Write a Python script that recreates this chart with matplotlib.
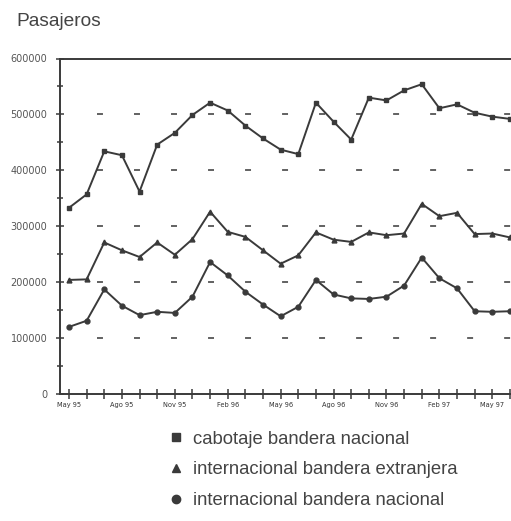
import matplotlib.pyplot as plt
from matplotlib.lines import Line2D
import numpy as np

# monthly passengers, May 95 .. Jun 97
months = ["May 95", "Jun 95", "Jul 95", "Ago 95", "Sep 95", "Oct 95", "Nov 95", "Dic 95",
          "Ene 96", "Feb 96", "Mar 96", "Abr 96", "May 96", "Jun 96", "Jul 96", "Ago 96",
          "Sep 96", "Oct 96", "Nov 96", "Dic 96", "Ene 97", "Feb 97", "Mar 97", "Abr 97",
          "May 97", "Jun 97"]

cabotaje = [333000, 357000, 434000, 427000, 362000, 446000, 467000, 499000,
            521000, 507000, 480000, 457000, 437000, 429000, 521000, 487000,
            455000, 530000, 525000, 543000, 554000, 511000, 518000, 503000,
            496000, 492000]

int_extranjera = [204000, 205000, 271000, 257000, 245000, 271000, 249000, 277000,
                  326000, 290000, 281000, 257000, 233000, 248000, 289000, 276000,
                  272000, 289000, 284000, 287000, 340000, 318000, 324000, 286000,
                  287000, 280000]

int_nacional = [120000, 131000, 187000, 158000, 141000, 147000, 145000, 174000,
                236000, 212000, 183000, 160000, 139000, 156000, 204000, 178000,
                171000, 170000, 174000, 194000, 244000, 207000, 189000, 148000,
                147000, 148000]

labels = ["cabotaje bandera nacional",
          "internacional bandera extranjera",
          "internacional bandera nacional"]

line_col = "#3a3a3a"
text_col = "#555555"

fig = plt.figure(figsize=(5.11, 5.21), dpi=100)
ax = fig.add_axes([60 / 511, 1 - 394 / 521, 1 - 60 / 511, (394 - 58.5) / 521])

x = np.arange(len(months))
ax.plot(x, cabotaje, color=line_col, lw=1.4, marker="s", ms=3.5, clip_on=False)
ax.plot(x, int_extranjera, color=line_col, lw=1.4, marker="^", ms=3.5, clip_on=False)
ax.plot(x, int_nacional, color=line_col, lw=1.4, marker="o", ms=3.5, clip_on=False)

ax.set_xlim(-0.51, 25.06)
ax.set_ylim(0, 600000)

# short dashes at every 100000, starting a little right of the axis
for lvl in range(100000, 600000, 100000):
    ax.hlines(lvl, 1.59, 25.06, color="#555555", lw=1.3,
              linestyle=(0, (3.3, 17.2)), zorder=0)

ax.spines["right"].set_visible(False)
for s in ["left", "bottom", "top"]:
    ax.spines[s].set_color(line_col)
    ax.spines[s].set_linewidth(1.4)

ax.set_yticks(range(0, 600001, 100000))
ax.set_yticklabels([str(v) for v in range(0, 600001, 100000)])
ax.set_yticks(range(50000, 600000, 100000), minor=True)
ax.tick_params(axis="y", which="major", direction="inout", length=6, width=1.1,
               color=line_col, labelsize=7, labelcolor=text_col, pad=6)
ax.tick_params(axis="y", which="minor", direction="inout", length=5, width=1.1,
               color=line_col)

ax.set_xticks(x)
ax.set_xticklabels([m if i % 3 == 0 else "" for i, m in enumerate(months)])
ax.tick_params(axis="x", direction="inout", length=7.5, width=1.1, color=line_col,
               labelsize=4.8, labelcolor="#333333", pad=2)

fig.text(16 / 511, 1 - 22 / 521, "Pasajeros", fontsize=13.8, color="#444444",
         va="center", ha="left", family="Liberation Sans")

handles = [Line2D([], [], color=line_col, marker=m, ls="none", ms=6)
           for m in ["s", "^", "o"]]
leg = fig.legend(handles, labels, loc="upper left", bbox_to_anchor=(152 / 511, 1 - 414 / 521),
                 frameon=False, handlelength=0.8, handletextpad=0.5, labelspacing=0.75,
                 prop={"family": "Liberation Sans", "size": 13.3})
for t in leg.get_texts():
    t.set_color("#444444")

fig.savefig("out.png", dpi=100)
